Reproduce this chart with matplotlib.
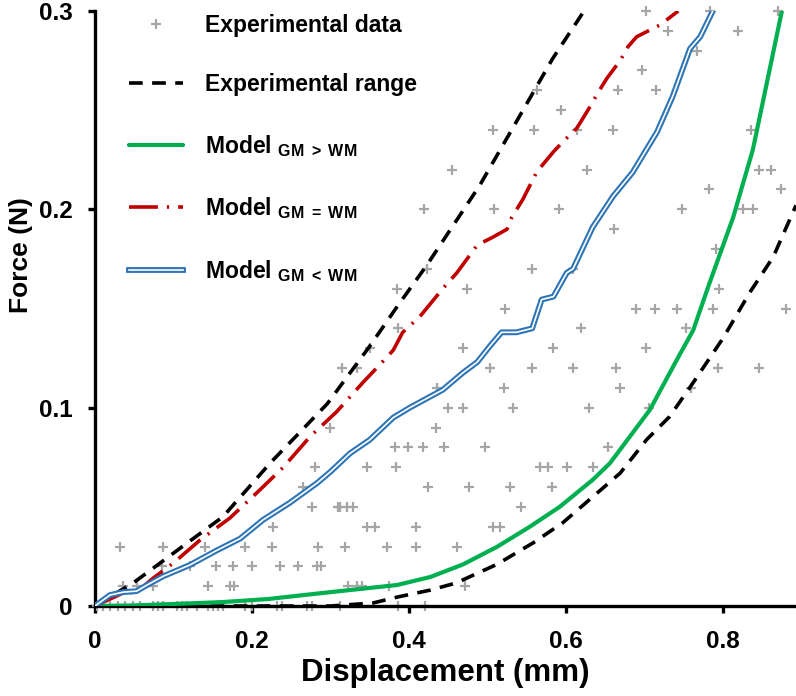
import matplotlib
matplotlib.use("Agg")
import matplotlib.pyplot as plt
import matplotlib.patheffects as pe

plt.rcParams['mathtext.fontset'] = 'custom'
plt.rcParams['mathtext.rm'] = 'Liberation Sans:bold'
plt.rcParams['mathtext.bf'] = 'Liberation Sans:bold'
plt.rcParams['mathtext.it'] = 'Liberation Sans:bold'
FONT = 'Liberation Sans'

# ---------------- data ----------------
exp_x = [
    # y = 0
    0.003, 0.010, 0.019, 0.029, 0.038, 0.048, 0.057, 0.074, 0.080, 0.087, 0.104, 0.111,
    0.117, 0.130, 0.144, 0.150, 0.157, 0.163, 0.191, 0.200, 0.232, 0.238, 0.270, 0.276,
    0.312, 0.386, 0.420,
    # y = 0.01
    0.036, 0.053, 0.074, 0.144, 0.172, 0.177, 0.322, 0.334, 0.340, 0.374, 0.472,
    # y = 0.02
    0.085, 0.121, 0.154, 0.176, 0.200, 0.236, 0.259, 0.283, 0.288,
    # y = 0.03
    0.032, 0.087, 0.140, 0.191, 0.225, 0.284, 0.318, 0.372, 0.409, 0.461,
    # y = 0.04
    0.227, 0.346, 0.357, 0.409, 0.507, 0.516,
    # y = 0.05
    0.277, 0.312, 0.321, 0.329, 0.543, 0.310,
    # y = 0.06
    0.265, 0.424, 0.477, 0.529, 0.582,
    # y = 0.07
    0.280, 0.346, 0.383, 0.567, 0.577, 0.601, 0.634,
    # y = 0.08
    0.382, 0.399, 0.418, 0.445, 0.497, 0.654,
    # y = 0.09
    0.300, 0.434,
    # y = 0.10
    0.450, 0.469, 0.532, 0.629, 0.706,
    # y = 0.11
    0.436, 0.521, 0.669, 0.759,
    # y = 0.12
    0.315, 0.334, 0.503, 0.557, 0.609, 0.664, 0.794, 0.846,
    # y = 0.13
    0.350, 0.469, 0.584, 0.702,
    # y = 0.14
    0.386, 0.619, 0.753,
    # y = 0.15
    0.522, 0.689, 0.713, 0.741, 0.787, 0.880,
    # y = 0.16
    0.385, 0.474, 0.795,
    # y = 0.17
    0.423, 0.557, 0.609,
    # y = 0.18
    0.791,
    # y = 0.19
    0.661,
    # y = 0.20
    0.419, 0.508, 0.591, 0.748, 0.825, 0.838,
    # y = 0.21
    0.782, 0.874,
    # y = 0.22
    0.455, 0.627, 0.846, 0.861,
    # y = 0.24
    0.507, 0.559, 0.614, 0.660, 0.836,
    # y = 0.25
    0.594,
    # y = 0.26
    0.563, 0.666, 0.715,
    # y = 0.27
    0.697,
    # y = 0.28
    0.767,
    # y = 0.29
    0.730, 0.819,
    # y = 0.30
    0.702, 0.783, 0.870,
]
exp_y = (
    [0.0] * 27 + [0.01] * 11 + [0.02] * 9 + [0.03] * 10 + [0.04] * 6 + [0.05] * 6
    + [0.06] * 5 + [0.07] * 7 + [0.08] * 6 + [0.09] * 2 + [0.10] * 5 + [0.11] * 4
    + [0.12] * 8 + [0.13] * 4 + [0.14] * 3 + [0.15] * 6 + [0.16] * 3 + [0.17] * 3
    + [0.18] * 1 + [0.19] * 1 + [0.20] * 6 + [0.21] * 2 + [0.22] * 4 + [0.24] * 5
    + [0.25] * 1 + [0.26] * 3 + [0.27] * 1 + [0.28] * 1 + [0.29] * 2 + [0.30] * 3
)

upper_x = [0.0, 0.05, 0.108, 0.163, 0.223, 0.296, 0.35, 0.385, 0.423, 0.49, 0.538, 0.583, 0.623]
upper_y = [0.0, 0.012, 0.029, 0.045, 0.072, 0.102, 0.131, 0.151, 0.172, 0.212, 0.245, 0.276, 0.300]

lower_x = [0.0, 0.30, 0.354, 0.385, 0.427, 0.46, 0.512, 0.558, 0.596, 0.634, 0.669, 0.703,
           0.732, 0.762, 0.80, 0.834, 0.864, 0.893]
lower_y = [0.0, 0.0, 0.0015, 0.0045, 0.008, 0.0116, 0.021, 0.0318, 0.042, 0.055, 0.067, 0.084,
           0.0955, 0.1126, 0.135, 0.158, 0.176, 0.202]

gm_gt_x = [0.0, 0.05, 0.10, 0.163, 0.22, 0.30, 0.385, 0.427, 0.469, 0.512, 0.554, 0.592, 0.634,
           0.656, 0.707, 0.741, 0.762, 0.783, 0.813, 0.838, 0.856, 0.875]
gm_gt_y = [0.0, 0.0003, 0.001, 0.002, 0.0035, 0.007, 0.0106, 0.0146, 0.021, 0.0298, 0.040, 0.050,
           0.0636, 0.072, 0.099, 0.124, 0.139, 0.163, 0.196, 0.230, 0.264, 0.300]

gm_eq_x = [0.0, 0.036, 0.053, 0.074, 0.10, 0.134, 0.172, 0.206, 0.24, 0.274, 0.308, 0.342, 0.363,
           0.38, 0.392, 0.414, 0.443, 0.461, 0.487, 0.507, 0.525, 0.531, 0.545, 0.563, 0.584,
           0.596, 0.614, 0.631, 0.641, 0.652, 0.669, 0.679, 0.69, 0.72, 0.743]
gm_eq_y = [0.0, 0.0066, 0.007, 0.014, 0.0217, 0.0333, 0.0444, 0.057, 0.070, 0.0854, 0.098, 0.113,
           0.1217, 0.129, 0.138, 0.146, 0.160, 0.168, 0.182, 0.186, 0.19, 0.196, 0.205, 0.219,
           0.229, 0.234, 0.241, 0.252, 0.259, 0.266, 0.275, 0.282, 0.287, 0.293, 0.300]

gm_lt_x = [0.0, 0.019, 0.036, 0.053, 0.066, 0.087, 0.121, 0.155, 0.185, 0.214, 0.248, 0.283,
           0.30, 0.325, 0.35, 0.38, 0.401, 0.443, 0.469, 0.487, 0.503, 0.518, 0.537, 0.557,
           0.569, 0.584, 0.601, 0.609, 0.634, 0.66, 0.685, 0.716, 0.736, 0.758, 0.771, 0.787]
gm_lt_y = [0.0, 0.0055, 0.007, 0.0075, 0.0105, 0.015, 0.0207, 0.028, 0.034, 0.0434, 0.052, 0.062,
           0.0677, 0.077, 0.0838, 0.095, 0.100, 0.109, 0.1177, 0.123, 0.131, 0.138, 0.138, 0.140,
           0.1545, 0.156, 0.168, 0.170, 0.191, 0.2066, 0.2187, 0.239, 0.257, 0.281, 0.287, 0.300]

x_ticks = [0, 0.2, 0.4, 0.6, 0.8]
x_ticklabels = ["0", "0.2", "0.4", "0.6", "0.8"]
y_ticks = [0, 0.1, 0.2, 0.3]
y_ticklabels = ["0", "0.1", "0.2", "0.3"]

GRAY = '#A6A6A6'
GREEN = '#00B050'
RED = '#C00000'
BLUE = '#2E75B6'

# ---------------- figure ----------------
fig = plt.figure(figsize=(7.96, 6.96), dpi=100)
ax = fig.add_axes([0.1193, 0.1293, 0.8807, 0.8549])

ax.plot(exp_x, exp_y, linestyle='none', marker='+', color=GRAY, markersize=7,
        markeredgewidth=1.6, label='Experimental data', zorder=2, clip_on=False)
ax.plot(upper_x, upper_y, color='black', lw=2.6, linestyle=(0, (3.8, 2.6)),
        label='Experimental range', zorder=3)
ax.plot(lower_x, lower_y, color='black', lw=2.6, linestyle=(0, (3.8, 2.6)), zorder=3)
ax.plot(gm_gt_x, gm_gt_y, color=GREEN, lw=3.0, solid_capstyle='round',
        label=r'Model $_{\mathregular{GM\ >\ WM}}$', zorder=4)
ax.plot(gm_eq_x, gm_eq_y, color=RED, lw=2.6, linestyle=(0, (8, 2.5, 0.6, 2.5)),
        label=r'Model $_{\mathregular{GM\ =\ WM}}$', zorder=4)
ax.plot(gm_lt_x, gm_lt_y, color='white', lw=1.2, zorder=5,
        path_effects=[pe.Stroke(linewidth=4.2, foreground=BLUE), pe.Normal()],
        label=r'Model $_{\mathregular{GM\ <\ WM}}$')

ax.set_xlim(0, 0.893)
ax.set_ylim(0, 0.3)
for s in ['top', 'right']:
    ax.spines[s].set_visible(False)
for s in ['left', 'bottom']:
    ax.spines[s].set_linewidth(2.4)

ax.set_xticks(x_ticks)
ax.set_xticklabels(x_ticklabels)
ax.set_yticks(y_ticks)
ax.set_yticklabels(y_ticklabels)
ax.tick_params(axis='both', direction='out', length=5, width=2.4, labelsize=17.5)
ax.tick_params(axis='y', pad=11)
ax.tick_params(axis='x', pad=12)
for lab in ax.get_xticklabels() + ax.get_yticklabels():
    lab.set_fontfamily(FONT)
    lab.set_fontweight('bold')

ax.set_xlabel('Displacement (mm)', fontsize=22.5, fontweight='bold', family=FONT)
ax.set_ylabel('Force (N)', fontsize=19, fontweight='bold', family=FONT)
ax.xaxis.set_label_coords(0.5, -0.088)
ax.yaxis.set_label_coords(-0.089, 0.59)

leg = ax.legend(loc='upper left', bbox_to_anchor=(0.036, 1.011), frameon=False,
                prop={'family': FONT, 'weight': 'bold', 'size': 16.5},
                handlelength=2.35, handletextpad=0.95, labelspacing=1.6, borderaxespad=0)

fig.savefig('out.png', dpi=100)
